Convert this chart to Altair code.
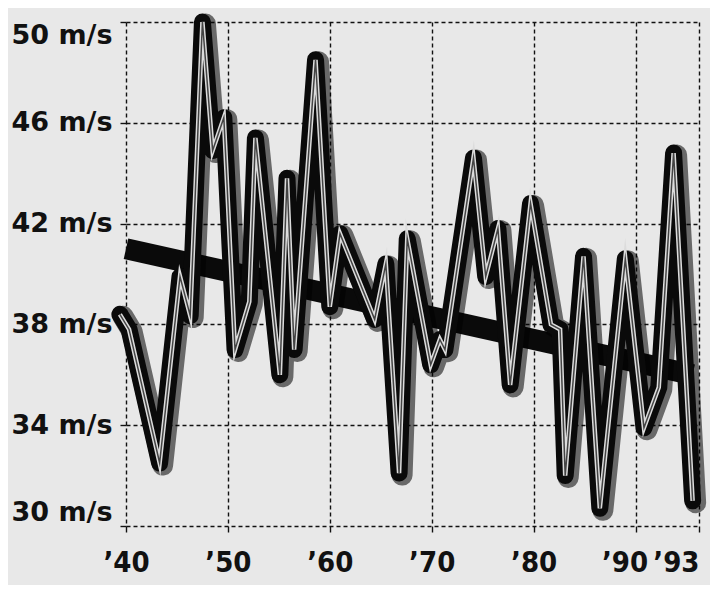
import altair as alt
import pandas as pd

# Wind speed series (vertices)
years = [1939.4, 1940.3, 1943.3, 1945.3, 1946.3, 1947.5, 1948.5, 1949.6, 1950.7, 1952.1,
         1952.7, 1955.1, 1955.8, 1956.5, 1958.6, 1960.0, 1961.0, 1964.4, 1965.5, 1966.8,
         1967.6, 1969.9, 1970.8, 1971.3, 1974.1, 1975.3, 1976.5, 1977.7, 1979.7, 1981.7,
         1982.6, 1983.1, 1984.9, 1986.5, 1989.0, 1990.4, 1991.1, 1991.8, 1992.7]
speeds = [38.4, 37.8, 32.5, 39.9, 38.35, 50.0, 44.9, 46.2, 37.0, 38.9,
          45.4, 36.0, 43.8, 37.0, 48.5, 38.7, 41.6, 38.2, 40.4, 32.1,
          41.4, 36.4, 37.4, 37.0, 44.6, 39.9, 41.8, 35.6, 42.8, 38.0,
          37.8, 32.0, 40.7, 30.7, 40.6, 33.9, 35.5, 44.8, 31.0]

# Trend line end points
trend_years = [1940.0, 1992.7]
trend_speeds = [41.0, 36.0]

# Axis ticks
x_ticks = [1940, 1950, 1960, 1970, 1980, 1990, 1993]
y_ticks = [30, 34, 38, 42, 46, 50]

series = pd.DataFrame({"year": years, "speed": speeds})
trend = pd.DataFrame({"year": trend_years, "speed": trend_speeds})

x_enc = alt.X(
    "year:Q",
    scale=alt.Scale(domain=[1940, 1990, 1993], range=[0, 509.5, 573], nice=False, zero=False),
    axis=alt.Axis(
        values=x_ticks,
        labelExpr="'\u2019' + slice(toString(datum.value), 2)",
        title=None,
        grid=True, gridDash=[4, 3], gridColor="#111", gridWidth=1.4,
        domain=False,
        ticks=True, tickSize=6, tickColor="#111", tickWidth=1.4,
        labelFont="DejaVu Sans Condensed, Liberation Sans Narrow, Liberation Sans, sans-serif",
        labelFontSize=29, labelFontWeight="bold", labelColor="#111",
        labelPadding=16, labelOverlap=False,
        labelAlign={"condition": {"test": "datum.value == 1993", "value": "right"}, "value": "center"},
        labelOffset={"condition": {"test": "datum.value == 1990", "value": -11}, "value": 0},
    ),
)
y_enc = alt.Y(
    "speed:Q",
    scale=alt.Scale(domain=[30, 50], nice=False, zero=False),
    axis=alt.Axis(
        values=y_ticks,
        labelExpr="datum.value + ' m/s'",
        title=None,
        grid=True, gridDash=[4, 3], gridColor="#111", gridWidth=1.4,
        domain=False,
        ticks=True, tickSize=6, tickColor="#111", tickWidth=1.4,
        labelFont="DejaVu Sans", labelFontSize=27, labelFontWeight="bold",
        labelColor="#111", labelPadding=8, labelFlush=True, labelOverlap=False,
    ),
)

trend_layer = alt.Chart(trend).mark_line(color="#0a0a0a", strokeWidth=21, strokeCap="butt").encode(x=x_enc, y=y_enc)
shadow = alt.Chart(series).mark_line(color="#000", strokeWidth=21, opacity=0.55, strokeJoin="round",
                                      strokeCap="round", xOffset=3, yOffset=2).encode(x=x_enc, y=y_enc)
black = alt.Chart(series).mark_line(color="#0a0a0a", strokeWidth=17, strokeJoin="round",
                                     strokeCap="round").encode(x=x_enc, y=y_enc)
white = alt.Chart(series).mark_line(color="#dcdcdc", strokeWidth=4.5, strokeJoin="miter",
                                     strokeMiterLimit=10).encode(x=x_enc, y=y_enc)
core = alt.Chart(series).mark_line(color="#444", strokeWidth=1.5, strokeJoin="miter",
                                    strokeMiterLimit=10).encode(x=x_enc, y=y_enc)

chart = alt.layer(trend_layer, shadow, black, white, core).properties(
    width=573, height=504,
    autosize=alt.AutoSizeParams(type="none"),
    padding={"left": 118, "top": 14, "right": 11, "bottom": 59},
    background="#e8e8e8",
).configure_view(stroke=None)

chart.save("out.html", embed_options={"renderer": "svg", "actions": False})
